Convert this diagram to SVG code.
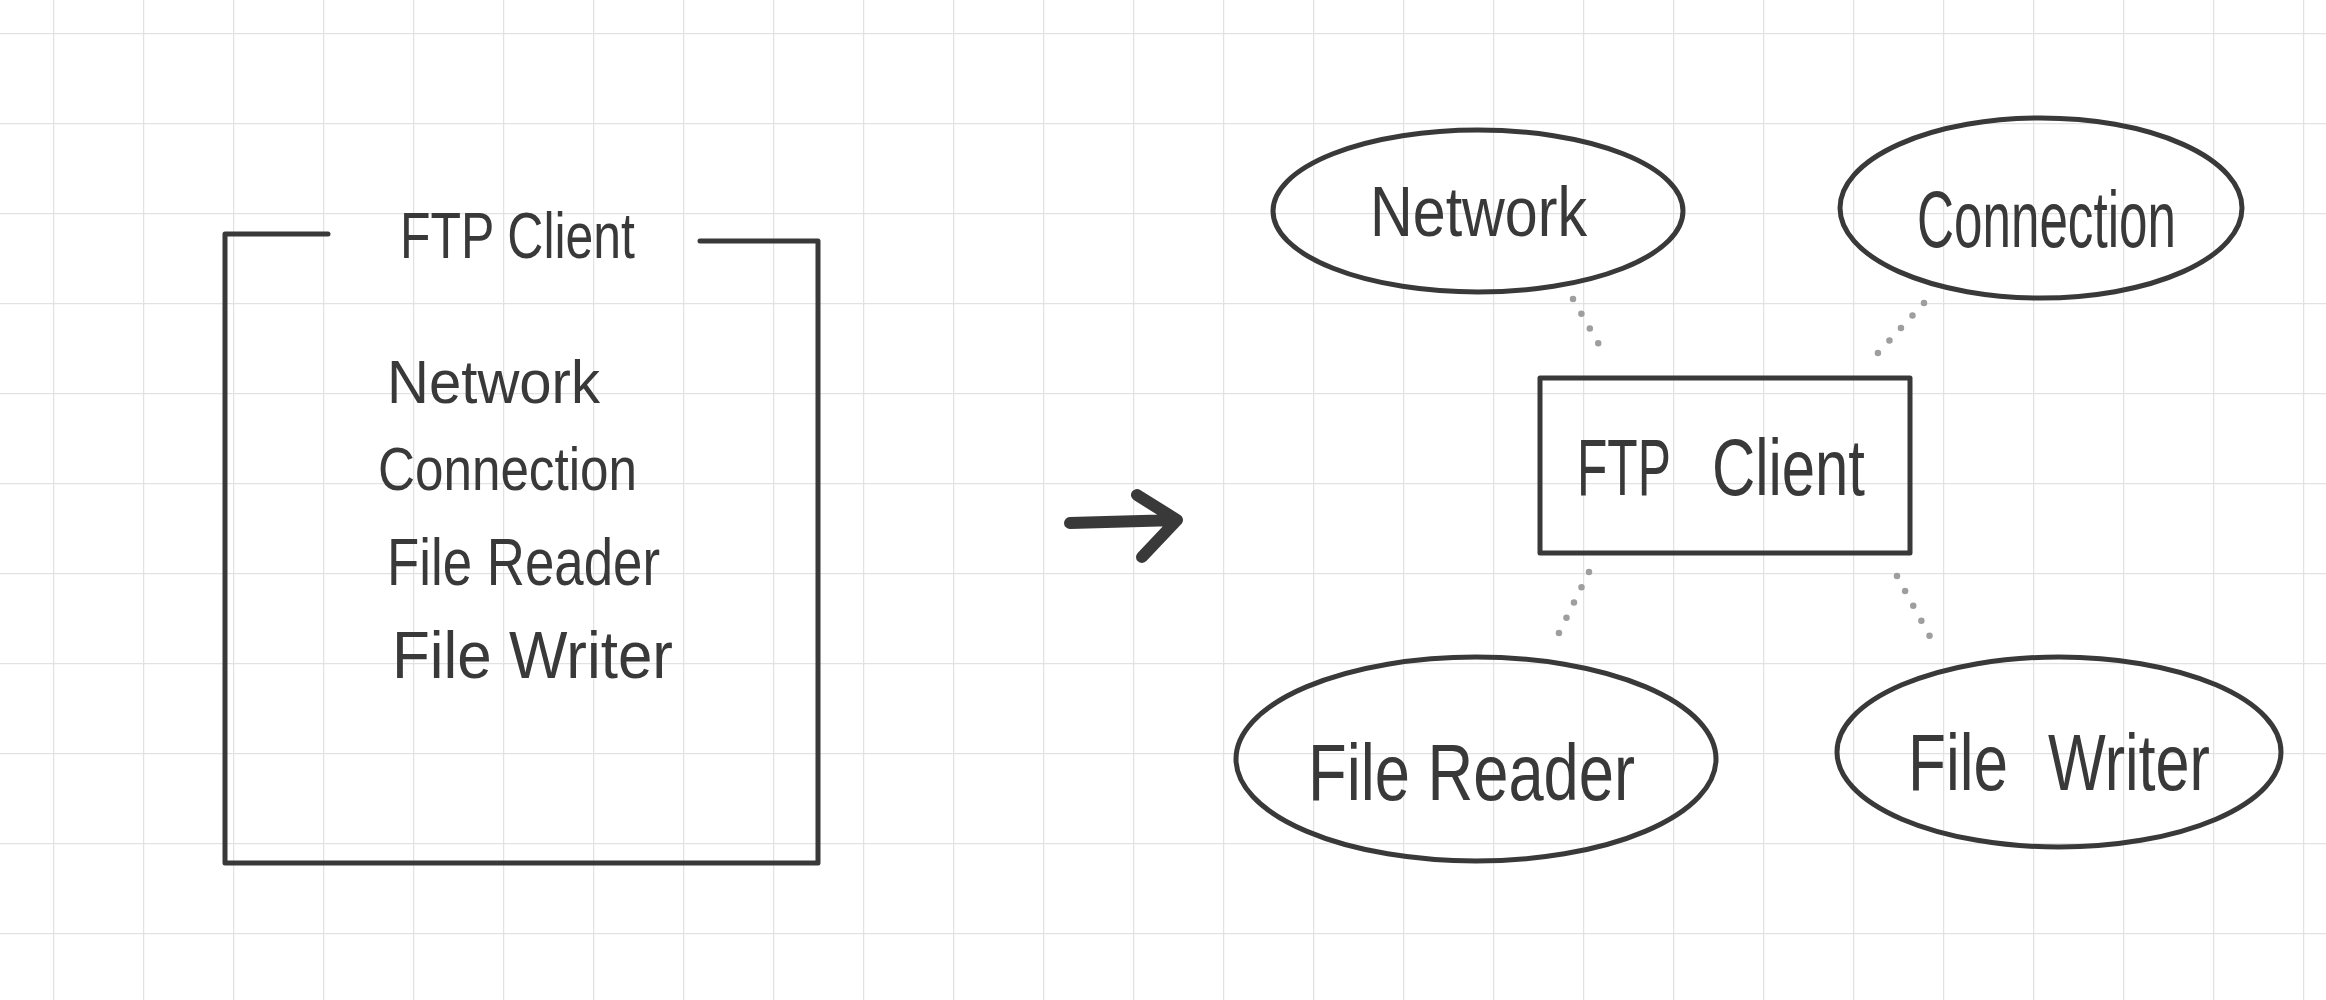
<svg xmlns="http://www.w3.org/2000/svg" width="2326" height="1000" viewBox="0 0 2326 1000">
<defs>
<pattern id="grid" x="53" y="33" width="90" height="90" patternUnits="userSpaceOnUse">
<path d="M0 0 V90 M0 0 H90" fill="none" stroke="#e2e2e2" stroke-width="2.5"/>
</pattern>
</defs>
<style>
.ink{fill:none;stroke:#393939;stroke-width:5;stroke-linecap:round;stroke-linejoin:round}
.txt{font-family:"Liberation Sans",Arial,sans-serif;fill:#393939}
.dot{fill:none;stroke:#9e9e9e;stroke-width:6.5;stroke-linecap:round;stroke-dasharray:0 17}
</style>
<rect width="2326" height="1000" fill="#ffffff"/>
<rect width="2326" height="1000" fill="url(#grid)"/>

<g id="left-ftp-client">
<path class="ink" d="M328 234 H225 V863 H818 V241 H700"/>
<text class="txt" x="400" y="258" font-size="64" textLength="235" lengthAdjust="spacingAndGlyphs">FTP Client</text>
<text class="txt" x="387" y="403" font-size="62" textLength="213" lengthAdjust="spacingAndGlyphs">Network</text>
<text class="txt" x="378" y="490" font-size="62" textLength="259" lengthAdjust="spacingAndGlyphs">Connection</text>
<text class="txt" x="387" y="585" font-size="66" textLength="273" lengthAdjust="spacingAndGlyphs">File Reader</text>
<text class="txt" x="392" y="678" font-size="66" textLength="281" lengthAdjust="spacingAndGlyphs">File Writer</text>
</g>

<g id="transform-arrow">
<path class="ink" style="stroke-width:12" d="M1070 523 L1177 520 M1137 495 L1177 520 L1142 557"/>
</g>

<g id="connectors">
<line class="dot" x1="1573" y1="299" x2="1606" y2="357"/>
<line class="dot" x1="1924" y1="303" x2="1877" y2="354"/>
<line class="dot" x1="1589" y1="572" x2="1555" y2="641"/>
<line class="dot" x1="1897" y1="576" x2="1934" y2="644"/>
</g>

<g id="node-network">
<ellipse class="ink" cx="1478" cy="211" rx="205" ry="81"/>
<text class="txt" x="1370" y="236" font-size="70" textLength="217" lengthAdjust="spacingAndGlyphs">Network</text>
</g>
<g id="node-connection">
<ellipse class="ink" cx="2041" cy="208" rx="201" ry="90"/>
<text class="txt" x="1917" y="247" font-size="80" textLength="259" lengthAdjust="spacingAndGlyphs">Connection</text>
</g>
<g id="node-ftp-client">
<rect class="ink" x="1540" y="378" width="370" height="175"/>
<text class="txt" y="495" font-size="80"><tspan x="1577" textLength="93" lengthAdjust="spacingAndGlyphs">FTP</tspan> <tspan x="1712" textLength="153" lengthAdjust="spacingAndGlyphs">Client</tspan></text>
</g>
<g id="node-file-reader">
<ellipse class="ink" cx="1476" cy="759" rx="240" ry="102"/>
<text class="txt" x="1308" y="800" font-size="80" textLength="327" lengthAdjust="spacingAndGlyphs">File Reader</text>
</g>
<g id="node-file-writer">
<ellipse class="ink" cx="2059" cy="752" rx="222" ry="95"/>
<text class="txt" y="790" font-size="80"><tspan x="1908" textLength="100" lengthAdjust="spacingAndGlyphs">File</tspan> <tspan x="2048" textLength="162" lengthAdjust="spacingAndGlyphs">Writer</tspan></text>
</g>
</svg>
